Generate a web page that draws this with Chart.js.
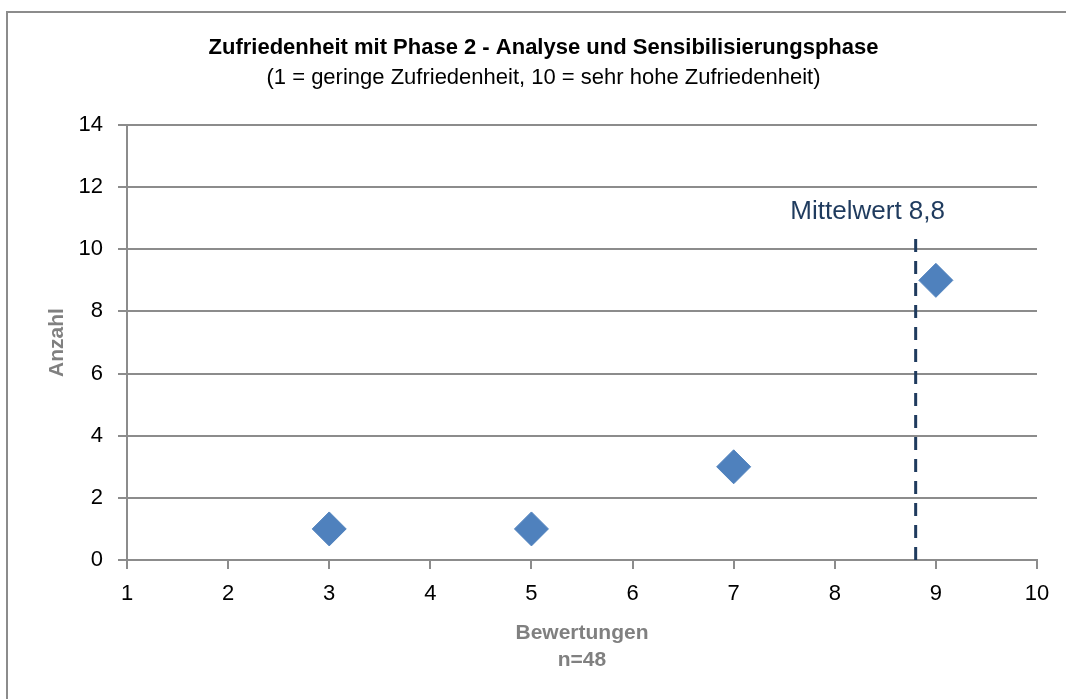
<!DOCTYPE html>
<html lang="de">
<head>
<meta charset="utf-8">
<title>Zufriedenheit mit Phase 2</title>
<script src="https://cdn.jsdelivr.net/npm/chart.js@4.4.1/dist/chart.umd.min.js"></script>
<style>
  html, body { margin: 0; padding: 0; background: #fff; overflow: hidden; }
  #chartContainer { width: 1066px; height: 699px; }
</style>
</head>
<body>
<div id="chartContainer"><canvas id="satisfactionChart" width="1066" height="699"></canvas></div>
<script>
// values
const ratings = [3, 5, 7, 9];
const counts = [1, 1, 3, 9];
const meanValue = 8.8;
const meanLineRange = [0, 10.4];
const meanLabel = "Mittelwert 8,8";
const xTickValues = [1, 2, 3, 4, 5, 6, 7, 8, 9, 10];
const yTickValues = [0, 2, 4, 6, 8, 10, 12, 14];

const titleText = "Zufriedenheit mit Phase 2 - Analyse und Sensibilisierungsphase";
const subtitleText = "(1 = geringe Zufriedenheit, 10 = sehr hohe Zufriedenheit)";
const xTitle = ["Bewertungen", "n=48"];
const yTitle = "Anzahl";

const fontFamily = "'Liberation Sans', Arial, sans-serif";
const gridGray = "#8c8c8c";
const navy = "#1f3b5e";

document.addEventListener("DOMContentLoaded", function () {

    // gray frame around the whole chart (right and bottom edge fall outside the picture)
    const framePlugin = {
        id: "frame",
        beforeDraw(chart) {
            const ctx = chart.ctx;
            ctx.save();
            ctx.strokeStyle = gridGray;
            ctx.lineWidth = 2;
            ctx.strokeRect(7, 12, 1100, 800);
            ctx.restore();
        }
    };

    // "Mittelwert" label above the dashed line
    const meanLabelPlugin = {
        id: "meanLabel",
        afterDatasetsDraw(chart) {
            const ctx = chart.ctx;
            const x = chart.scales.x.getPixelForValue(meanValue);
            const y = chart.scales.y.getPixelForValue(meanLineRange[1]);
            ctx.save();
            ctx.font = "26px " + fontFamily;
            ctx.fillStyle = navy;
            ctx.textAlign = "center";
            ctx.textBaseline = "middle";
            ctx.fillText(meanLabel, x - 48, y - 25);
            ctx.restore();
        }
    };

    const points = ratings.map((r, i) => ({ x: r, y: counts[i] }));
    const meanLine = meanLineRange.map(v => ({ x: meanValue, y: v }));

    new Chart(document.getElementById("satisfactionChart").getContext("2d"), {
        type: "scatter",
        data: {
            datasets: [
                {
                    type: "line",
                    data: meanLine,
                    borderColor: navy,
                    borderWidth: 3,
                    borderDash: [13, 9],
                    pointRadius: 0,
                    fill: false
                },
                {
                    data: points,
                    pointStyle: "rectRot",
                    pointRadius: 17,
                    backgroundColor: "#4f81bd",
                    borderColor: "#4f81bd",
                    borderWidth: 1
                }
            ]
        },
        options: {
            responsive: false,
            animation: false,
            devicePixelRatio: 1,
            layout: { padding: { left: 50, right: 29, top: 0, bottom: 0 } },
            plugins: {
                legend: { display: false },
                tooltip: { enabled: false },
                title: {
                    display: true,
                    text: titleText,
                    color: "#000",
                    font: { family: fontFamily, size: 22, weight: "bold", lineHeight: "28px" },
                    padding: { top: 34, bottom: 0 }
                },
                subtitle: {
                    display: true,
                    text: subtitleText,
                    color: "#000",
                    font: { family: fontFamily, size: 22, lineHeight: "28px" },
                    padding: { top: 2, bottom: 33 }
                }
            },
            scales: {
                x: {
                    type: "linear",
                    min: xTickValues[0],
                    max: xTickValues[xTickValues.length - 1],
                    afterBuildTicks: scale => { scale.ticks = xTickValues.map(v => ({ value: v })); },
                    afterFit: scale => { scale.height = 139; },
                    grid: { drawOnChartArea: false, drawTicks: true, tickLength: 9, color: gridGray, lineWidth: 2 },
                    border: { display: true, color: gridGray, width: 2 },
                    ticks: { color: "#000", padding: 12, font: { family: fontFamily, size: 22 } },
                    title: {
                        display: true,
                        text: xTitle,
                        color: "#808080",
                        font: { family: fontFamily, size: 21, weight: "bold", lineHeight: "27px" },
                        padding: { top: 0, bottom: 25.5 }
                    }
                },
                y: {
                    type: "linear",
                    min: yTickValues[0],
                    max: yTickValues[yTickValues.length - 1],
                    afterBuildTicks: scale => { scale.ticks = yTickValues.map(v => ({ value: v })); },
                    afterFit: scale => { scale.width = 77; },
                    grid: { drawTicks: true, tickLength: 9, color: gridGray, lineWidth: 2 },
                    border: { display: true, color: gridGray, width: 2 },
                    ticks: { color: "#000", padding: 15, font: { family: fontFamily, size: 22 } },
                    title: {
                        display: true,
                        text: yTitle,
                        color: "#808080",
                        font: { family: fontFamily, size: 21, weight: "bold", lineHeight: "14px" },
                        padding: { top: 0, bottom: 0 }
                    }
                }
            }
        },
        plugins: [framePlugin, meanLabelPlugin]
    });
});
</script>
</body>
</html>
